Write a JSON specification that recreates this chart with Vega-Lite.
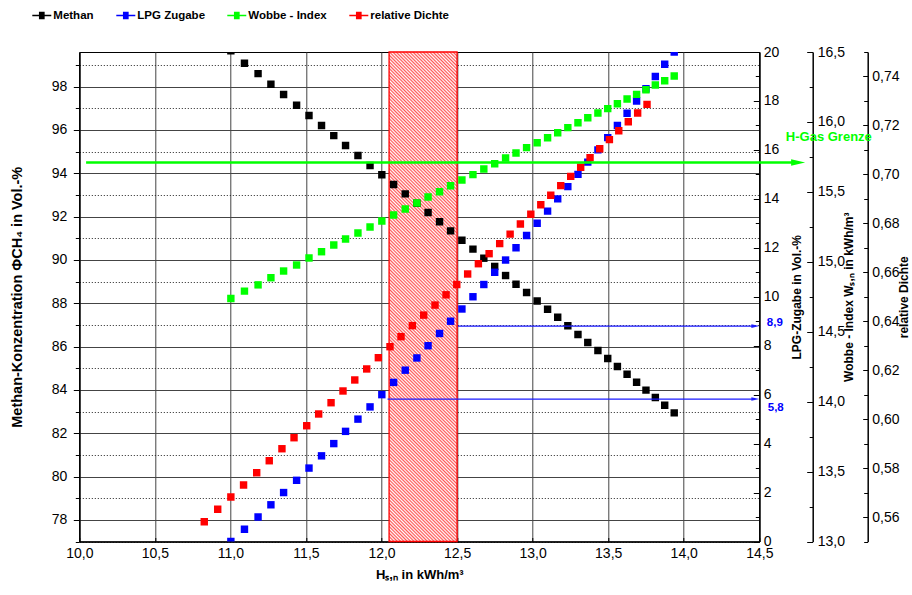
{
"$schema": "https://vega.github.io/schema/vega-lite/v6.json",
"width": 680, "height": 489.5,
"autosize": {"type": "none"},
"padding": {"left": 79.3, "top": 52, "right": 152.7, "bottom": 53.5},
"background": "white",
"datasets": {
"bereich": [{"von": 12.05, "bis": 12.5}],
"methan": [{"H":11.003,"V":99.66},{"H":11.093,"V":99.08},{"H":11.183,"V":98.6},{"H":11.268,"V":98.11},{"H":11.352,"V":97.64},{"H":11.438,"V":97.14},{"H":11.52,"V":96.67},{"H":11.603,"V":96.21},{"H":11.684,"V":95.74},{"H":11.762,"V":95.28},{"H":11.844,"V":94.82},{"H":11.924,"V":94.36},{"H":12.002,"V":93.93},{"H":12.08,"V":93.48},{"H":12.157,"V":93.05},{"H":12.234,"V":92.62},{"H":12.308,"V":92.19},{"H":12.384,"V":91.76},{"H":12.457,"V":91.34},{"H":12.532,"V":90.91},{"H":12.605,"V":90.5},{"H":12.677,"V":90.08},{"H":12.749,"V":89.7},{"H":12.821,"V":89.28},{"H":12.89,"V":88.88},{"H":12.96,"V":88.5},{"H":13.03,"V":88.1},{"H":13.099,"V":87.72},{"H":13.166,"V":87.35},{"H":13.233,"V":86.96},{"H":13.3,"V":86.56},{"H":13.365,"V":86.19},{"H":13.432,"V":85.82},{"H":13.497,"V":85.45},{"H":13.561,"V":85.08},{"H":13.625,"V":84.72},{"H":13.688,"V":84.35},{"H":13.75,"V":83.99},{"H":13.812,"V":83.65},{"H":13.874,"V":83.29},{"H":13.937,"V":82.94}],
"lpg": [{"H":11.003,"V":0},{"H":11.093,"V":0.5},{"H":11.183,"V":1},{"H":11.268,"V":1.5},{"H":11.352,"V":2},{"H":11.438,"V":2.5},{"H":11.52,"V":3},{"H":11.603,"V":3.5},{"H":11.684,"V":4},{"H":11.762,"V":4.5},{"H":11.844,"V":5},{"H":11.924,"V":5.5},{"H":12.002,"V":6},{"H":12.08,"V":6.5},{"H":12.157,"V":7},{"H":12.234,"V":7.5},{"H":12.308,"V":8},{"H":12.384,"V":8.5},{"H":12.457,"V":9},{"H":12.532,"V":9.5},{"H":12.605,"V":10},{"H":12.677,"V":10.5},{"H":12.749,"V":11},{"H":12.821,"V":11.5},{"H":12.89,"V":12},{"H":12.96,"V":12.5},{"H":13.03,"V":13},{"H":13.099,"V":13.5},{"H":13.166,"V":14},{"H":13.233,"V":14.5},{"H":13.3,"V":15},{"H":13.365,"V":15.5},{"H":13.432,"V":16},{"H":13.497,"V":16.5},{"H":13.561,"V":17},{"H":13.625,"V":17.5},{"H":13.688,"V":18},{"H":13.75,"V":18.5},{"H":13.812,"V":19},{"H":13.874,"V":19.5},{"H":13.937,"V":20}],
"wobbe": [{"H":11.003,"V":14.737},{"H":11.093,"V":14.79},{"H":11.183,"V":14.835},{"H":11.268,"V":14.886},{"H":11.352,"V":14.934},{"H":11.438,"V":14.977},{"H":11.52,"V":15.027},{"H":11.603,"V":15.072},{"H":11.684,"V":15.12},{"H":11.762,"V":15.163},{"H":11.844,"V":15.206},{"H":11.924,"V":15.249},{"H":12.002,"V":15.292},{"H":12.08,"V":15.334},{"H":12.157,"V":15.377},{"H":12.234,"V":15.42},{"H":12.308,"V":15.463},{"H":12.384,"V":15.501},{"H":12.457,"V":15.544},{"H":12.532,"V":15.585},{"H":12.605,"V":15.623},{"H":12.677,"V":15.663},{"H":12.749,"V":15.701},{"H":12.821,"V":15.742},{"H":12.89,"V":15.778},{"H":12.96,"V":15.816},{"H":13.03,"V":15.851},{"H":13.099,"V":15.887},{"H":13.166,"V":15.923},{"H":13.233,"V":15.959},{"H":13.3,"V":15.994},{"H":13.365,"V":16.03},{"H":13.432,"V":16.064},{"H":13.497,"V":16.095},{"H":13.561,"V":16.13},{"H":13.625,"V":16.164},{"H":13.688,"V":16.197},{"H":13.75,"V":16.23},{"H":13.812,"V":16.264},{"H":13.874,"V":16.295},{"H":13.937,"V":16.328}],
"dichte": [{"H":10.827,"V":0.5581},{"H":10.916,"V":0.5632},{"H":11.003,"V":0.5682},{"H":11.087,"V":0.5731},{"H":11.174,"V":0.5781},{"H":11.257,"V":0.583},{"H":11.341,"V":0.5879},{"H":11.421,"V":0.5924},{"H":11.505,"V":0.5973},{"H":11.584,"V":0.6021},{"H":11.666,"V":0.6067},{"H":11.745,"V":0.6115},{"H":11.823,"V":0.616},{"H":11.902,"V":0.6205},{"H":11.979,"V":0.6251},{"H":12.056,"V":0.6296},{"H":12.129,"V":0.6337},{"H":12.204,"V":0.6382},{"H":12.279,"V":0.6425},{"H":12.354,"V":0.6466},{"H":12.427,"V":0.6508},{"H":12.498,"V":0.655},{"H":12.57,"V":0.6593},{"H":12.641,"V":0.6635},{"H":12.712,"V":0.6676},{"H":12.782,"V":0.6717},{"H":12.851,"V":0.6756},{"H":12.919,"V":0.6797},{"H":12.988,"V":0.6837},{"H":13.054,"V":0.6876},{"H":13.12,"V":0.6915},{"H":13.186,"V":0.6954},{"H":13.252,"V":0.6992},{"H":13.318,"V":0.7029},{"H":13.38,"V":0.7068},{"H":13.444,"V":0.7105},{"H":13.508,"V":0.7142},{"H":13.57,"V":0.7178},{"H":13.633,"V":0.7215},{"H":13.695,"V":0.7251},{"H":13.757,"V":0.7286}],
"hgas": [{"von": 10.045, "bis": 14.75, "spitze": 14.757, "W": 15.71, "tx": 14.96, "tw": 15.889, "text": "H-Gas Grenze"}],
"lpgmarken": [{"von": 12.506, "bis": 14.47, "spitze": 14.474, "L": 8.8, "tx": 14.603, "tl": 8.93, "text": "8,9"},{"von": 12.04, "bis": 14.47, "spitze": 14.474, "L": 5.82, "tx": 14.609, "tl": 5.45, "text": "5,8"}]
},
"layer": [
{
"data": {"name": "bereich"},
"mark": {"type": "rect", "stroke": "#ff0000", "strokeWidth": 1.3, "opacity": 1, "fillOpacity": 1,
"fill": {"gradient": "linear", "x1": 0, "y1": 1, "x2": 0.155, "y2": -0.117, "stops": [
{"offset":0,"color":"#fff"},{"offset":0.003,"color":"#f55"},{"offset":0.006,"color":"#fff"},{"offset":0.009,"color":"#f55"},{"offset":0.012,"color":"#fff"},{"offset":0.015,"color":"#f55"},{"offset":0.018,"color":"#fff"},{"offset":0.021,"color":"#f55"},{"offset":0.024,"color":"#fff"},{"offset":0.027,"color":"#f55"},
{"offset":0.03,"color":"#fff"},{"offset":0.033,"color":"#f55"},{"offset":0.036,"color":"#fff"},{"offset":0.039,"color":"#f55"},{"offset":0.042,"color":"#fff"},{"offset":0.045,"color":"#f55"},{"offset":0.048,"color":"#fff"},{"offset":0.051,"color":"#f55"},{"offset":0.054,"color":"#fff"},{"offset":0.057,"color":"#f55"},
{"offset":0.06,"color":"#fff"},{"offset":0.063,"color":"#f55"},{"offset":0.066,"color":"#fff"},{"offset":0.069,"color":"#f55"},{"offset":0.072,"color":"#fff"},{"offset":0.075,"color":"#f55"},{"offset":0.078,"color":"#fff"},{"offset":0.081,"color":"#f55"},{"offset":0.084,"color":"#fff"},{"offset":0.087,"color":"#f55"},
{"offset":0.09,"color":"#fff"},{"offset":0.093,"color":"#f55"},{"offset":0.096,"color":"#fff"},{"offset":0.099,"color":"#f55"},{"offset":0.102,"color":"#fff"},{"offset":0.105,"color":"#f55"},{"offset":0.108,"color":"#fff"},{"offset":0.111,"color":"#f55"},{"offset":0.114,"color":"#fff"},{"offset":0.117,"color":"#f55"},
{"offset":0.12,"color":"#fff"},{"offset":0.123,"color":"#f55"},{"offset":0.126,"color":"#fff"},{"offset":0.129,"color":"#f55"},{"offset":0.132,"color":"#fff"},{"offset":0.135,"color":"#f55"},{"offset":0.138,"color":"#fff"},{"offset":0.141,"color":"#f55"},{"offset":0.144,"color":"#fff"},{"offset":0.147,"color":"#f55"},
{"offset":0.15,"color":"#fff"},{"offset":0.153,"color":"#f55"},{"offset":0.156,"color":"#fff"},{"offset":0.159,"color":"#f55"},{"offset":0.162,"color":"#fff"},{"offset":0.165,"color":"#f55"},{"offset":0.168,"color":"#fff"},{"offset":0.171,"color":"#f55"},{"offset":0.174,"color":"#fff"},{"offset":0.177,"color":"#f55"},
{"offset":0.18,"color":"#fff"},{"offset":0.183,"color":"#f55"},{"offset":0.186,"color":"#fff"},{"offset":0.189,"color":"#f55"},{"offset":0.192,"color":"#fff"},{"offset":0.195,"color":"#f55"},{"offset":0.198,"color":"#fff"},{"offset":0.201,"color":"#f55"},{"offset":0.204,"color":"#fff"},{"offset":0.207,"color":"#f55"},
{"offset":0.21,"color":"#fff"},{"offset":0.213,"color":"#f55"},{"offset":0.216,"color":"#fff"},{"offset":0.219,"color":"#f55"},{"offset":0.222,"color":"#fff"},{"offset":0.225,"color":"#f55"},{"offset":0.228,"color":"#fff"},{"offset":0.231,"color":"#f55"},{"offset":0.234,"color":"#fff"},{"offset":0.237,"color":"#f55"},
{"offset":0.24,"color":"#fff"},{"offset":0.243,"color":"#f55"},{"offset":0.246,"color":"#fff"},{"offset":0.249,"color":"#f55"},{"offset":0.252,"color":"#fff"},{"offset":0.255,"color":"#f55"},{"offset":0.258,"color":"#fff"},{"offset":0.261,"color":"#f55"},{"offset":0.264,"color":"#fff"},{"offset":0.267,"color":"#f55"},
{"offset":0.27,"color":"#fff"},{"offset":0.273,"color":"#f55"},{"offset":0.276,"color":"#fff"},{"offset":0.279,"color":"#f55"},{"offset":0.282,"color":"#fff"},{"offset":0.285,"color":"#f55"},{"offset":0.288,"color":"#fff"},{"offset":0.291,"color":"#f55"},{"offset":0.294,"color":"#fff"},{"offset":0.297,"color":"#f55"},
{"offset":0.3,"color":"#fff"},{"offset":0.303,"color":"#f55"},{"offset":0.306,"color":"#fff"},{"offset":0.309,"color":"#f55"},{"offset":0.312,"color":"#fff"},{"offset":0.315,"color":"#f55"},{"offset":0.318,"color":"#fff"},{"offset":0.321,"color":"#f55"},{"offset":0.324,"color":"#fff"},{"offset":0.327,"color":"#f55"},
{"offset":0.33,"color":"#fff"},{"offset":0.333,"color":"#f55"},{"offset":0.336,"color":"#fff"},{"offset":0.339,"color":"#f55"},{"offset":0.342,"color":"#fff"},{"offset":0.345,"color":"#f55"},{"offset":0.348,"color":"#fff"},{"offset":0.351,"color":"#f55"},{"offset":0.354,"color":"#fff"},{"offset":0.357,"color":"#f55"},
{"offset":0.36,"color":"#fff"},{"offset":0.363,"color":"#f55"},{"offset":0.366,"color":"#fff"},{"offset":0.369,"color":"#f55"},{"offset":0.372,"color":"#fff"},{"offset":0.375,"color":"#f55"},{"offset":0.378,"color":"#fff"},{"offset":0.381,"color":"#f55"},{"offset":0.384,"color":"#fff"},{"offset":0.387,"color":"#f55"},
{"offset":0.39,"color":"#fff"},{"offset":0.393,"color":"#f55"},{"offset":0.396,"color":"#fff"},{"offset":0.399,"color":"#f55"},{"offset":0.402,"color":"#fff"},{"offset":0.405,"color":"#f55"},{"offset":0.408,"color":"#fff"},{"offset":0.411,"color":"#f55"},{"offset":0.414,"color":"#fff"},{"offset":0.417,"color":"#f55"},
{"offset":0.42,"color":"#fff"},{"offset":0.423,"color":"#f55"},{"offset":0.426,"color":"#fff"},{"offset":0.429,"color":"#f55"},{"offset":0.432,"color":"#fff"},{"offset":0.435,"color":"#f55"},{"offset":0.438,"color":"#fff"},{"offset":0.441,"color":"#f55"},{"offset":0.444,"color":"#fff"},{"offset":0.447,"color":"#f55"},
{"offset":0.45,"color":"#fff"},{"offset":0.453,"color":"#f55"},{"offset":0.456,"color":"#fff"},{"offset":0.459,"color":"#f55"},{"offset":0.462,"color":"#fff"},{"offset":0.465,"color":"#f55"},{"offset":0.468,"color":"#fff"},{"offset":0.471,"color":"#f55"},{"offset":0.474,"color":"#fff"},{"offset":0.477,"color":"#f55"},
{"offset":0.48,"color":"#fff"},{"offset":0.483,"color":"#f55"},{"offset":0.486,"color":"#fff"},{"offset":0.489,"color":"#f55"},{"offset":0.492,"color":"#fff"},{"offset":0.495,"color":"#f55"},{"offset":0.498,"color":"#fff"},{"offset":0.501,"color":"#f55"},{"offset":0.504,"color":"#fff"},{"offset":0.507,"color":"#f55"},
{"offset":0.51,"color":"#fff"},{"offset":0.513,"color":"#f55"},{"offset":0.516,"color":"#fff"},{"offset":0.519,"color":"#f55"},{"offset":0.522,"color":"#fff"},{"offset":0.525,"color":"#f55"},{"offset":0.528,"color":"#fff"},{"offset":0.531,"color":"#f55"},{"offset":0.534,"color":"#fff"},{"offset":0.537,"color":"#f55"},
{"offset":0.54,"color":"#fff"},{"offset":0.543,"color":"#f55"},{"offset":0.546,"color":"#fff"},{"offset":0.549,"color":"#f55"},{"offset":0.552,"color":"#fff"},{"offset":0.555,"color":"#f55"},{"offset":0.558,"color":"#fff"},{"offset":0.561,"color":"#f55"},{"offset":0.564,"color":"#fff"},{"offset":0.567,"color":"#f55"},
{"offset":0.57,"color":"#fff"},{"offset":0.573,"color":"#f55"},{"offset":0.576,"color":"#fff"},{"offset":0.579,"color":"#f55"},{"offset":0.582,"color":"#fff"},{"offset":0.585,"color":"#f55"},{"offset":0.588,"color":"#fff"},{"offset":0.591,"color":"#f55"},{"offset":0.594,"color":"#fff"},{"offset":0.597,"color":"#f55"},
{"offset":0.6,"color":"#fff"},{"offset":0.603,"color":"#f55"},{"offset":0.606,"color":"#fff"},{"offset":0.609,"color":"#f55"},{"offset":0.612,"color":"#fff"},{"offset":0.615,"color":"#f55"},{"offset":0.618,"color":"#fff"},{"offset":0.621,"color":"#f55"},{"offset":0.624,"color":"#fff"},{"offset":0.627,"color":"#f55"},
{"offset":0.63,"color":"#fff"},{"offset":0.633,"color":"#f55"},{"offset":0.636,"color":"#fff"},{"offset":0.639,"color":"#f55"},{"offset":0.642,"color":"#fff"},{"offset":0.645,"color":"#f55"},{"offset":0.648,"color":"#fff"},{"offset":0.651,"color":"#f55"},{"offset":0.654,"color":"#fff"},{"offset":0.657,"color":"#f55"},
{"offset":0.66,"color":"#fff"},{"offset":0.663,"color":"#f55"},{"offset":0.666,"color":"#fff"},{"offset":0.669,"color":"#f55"},{"offset":0.672,"color":"#fff"},{"offset":0.675,"color":"#f55"},{"offset":0.678,"color":"#fff"},{"offset":0.681,"color":"#f55"},{"offset":0.684,"color":"#fff"},{"offset":0.687,"color":"#f55"},
{"offset":0.69,"color":"#fff"},{"offset":0.693,"color":"#f55"},{"offset":0.696,"color":"#fff"},{"offset":0.699,"color":"#f55"},{"offset":0.702,"color":"#fff"},{"offset":0.705,"color":"#f55"},{"offset":0.708,"color":"#fff"},{"offset":0.711,"color":"#f55"},{"offset":0.714,"color":"#fff"},{"offset":0.717,"color":"#f55"},
{"offset":0.72,"color":"#fff"},{"offset":0.723,"color":"#f55"},{"offset":0.726,"color":"#fff"},{"offset":0.729,"color":"#f55"},{"offset":0.732,"color":"#fff"},{"offset":0.735,"color":"#f55"},{"offset":0.738,"color":"#fff"},{"offset":0.741,"color":"#f55"},{"offset":0.744,"color":"#fff"},{"offset":0.747,"color":"#f55"},
{"offset":0.75,"color":"#fff"},{"offset":0.753,"color":"#f55"},{"offset":0.756,"color":"#fff"},{"offset":0.759,"color":"#f55"},{"offset":0.762,"color":"#fff"},{"offset":0.765,"color":"#f55"},{"offset":0.768,"color":"#fff"},{"offset":0.771,"color":"#f55"},{"offset":0.774,"color":"#fff"},{"offset":0.777,"color":"#f55"},
{"offset":0.78,"color":"#fff"},{"offset":0.783,"color":"#f55"},{"offset":0.786,"color":"#fff"},{"offset":0.789,"color":"#f55"},{"offset":0.792,"color":"#fff"},{"offset":0.795,"color":"#f55"},{"offset":0.798,"color":"#fff"},{"offset":0.801,"color":"#f55"},{"offset":0.804,"color":"#fff"},{"offset":0.807,"color":"#f55"},
{"offset":0.81,"color":"#fff"},{"offset":0.813,"color":"#f55"},{"offset":0.816,"color":"#fff"},{"offset":0.819,"color":"#f55"},{"offset":0.822,"color":"#fff"},{"offset":0.825,"color":"#f55"},{"offset":0.828,"color":"#fff"},{"offset":0.831,"color":"#f55"},{"offset":0.834,"color":"#fff"},{"offset":0.837,"color":"#f55"},
{"offset":0.84,"color":"#fff"},{"offset":0.843,"color":"#f55"},{"offset":0.846,"color":"#fff"},{"offset":0.849,"color":"#f55"},{"offset":0.852,"color":"#fff"},{"offset":0.855,"color":"#f55"},{"offset":0.858,"color":"#fff"},{"offset":0.861,"color":"#f55"},{"offset":0.864,"color":"#fff"},{"offset":0.867,"color":"#f55"},
{"offset":0.87,"color":"#fff"},{"offset":0.873,"color":"#f55"},{"offset":0.876,"color":"#fff"},{"offset":0.879,"color":"#f55"},{"offset":0.882,"color":"#fff"},{"offset":0.885,"color":"#f55"},{"offset":0.888,"color":"#fff"},{"offset":0.891,"color":"#f55"},{"offset":0.894,"color":"#fff"},{"offset":0.897,"color":"#f55"},
{"offset":0.9,"color":"#fff"},{"offset":0.903,"color":"#f55"},{"offset":0.906,"color":"#fff"},{"offset":0.909,"color":"#f55"},{"offset":0.912,"color":"#fff"},{"offset":0.915,"color":"#f55"},{"offset":0.918,"color":"#fff"},{"offset":0.921,"color":"#f55"},{"offset":0.924,"color":"#fff"},{"offset":0.927,"color":"#f55"},
{"offset":0.93,"color":"#fff"},{"offset":0.933,"color":"#f55"},{"offset":0.936,"color":"#fff"},{"offset":0.939,"color":"#f55"},{"offset":0.942,"color":"#fff"},{"offset":0.945,"color":"#f55"},{"offset":0.948,"color":"#fff"},{"offset":0.951,"color":"#f55"},{"offset":0.954,"color":"#fff"},{"offset":0.957,"color":"#f55"},
{"offset":0.96,"color":"#fff"},{"offset":0.963,"color":"#f55"},{"offset":0.966,"color":"#fff"},{"offset":0.969,"color":"#f55"},{"offset":0.972,"color":"#fff"},{"offset":0.975,"color":"#f55"},{"offset":0.978,"color":"#fff"},{"offset":0.981,"color":"#f55"},{"offset":0.984,"color":"#fff"},{"offset":0.987,"color":"#f55"},
{"offset":0.99,"color":"#fff"},{"offset":0.993,"color":"#f55"},{"offset":0.996,"color":"#fff"},{"offset":0.999,"color":"#f55"},{"offset":1,"color":"#fff"}
]}},
"encoding": {
"x": {"field": "von", "type": "quantitative", "scale": {"domain": [10, 14.5], "nice": false, "zero": false},
"axis": {"values": [10,10.25,10.5,10.75,11,11.25,11.5,11.75,12,12.25,12.5,12.75,13,13.25,13.5,13.75,14,14.25,14.5],
"labelExpr": "datum.value % 0.5 === 0 ? replace(format(datum.value, '.1f'), '.', ',') : ''",
"tickSize": -4, "labelPadding": 9,
"grid": true,
"gridColor": {"condition": {"test": "datum.value % 0.5 === 0", "value": "#444"}, "value": "#222"},
"gridDash": {"condition": {"test": "datum.value % 0.5 === 0", "value": []}, "value": [1, 2]},
"gridWidth": 1, "gridOpacity": 1,
"title": "Hₛ,ₙ in kWh/m³", "titleFontSize": 13, "titlePadding": 8}},
"x2": {"field": "bis"}
}
},
{
"data": {"name": "methan"},
"mark": {"type": "square", "size": 55, "opacity": 1, "clip": true},
"encoding": {
"x": {"field": "H", "type": "quantitative", "scale": {"domain": [10, 14.5], "nice": false, "zero": false}},
"y": {"field": "V", "type": "quantitative", "scale": {"domain": [77, 99.6], "nice": false, "zero": false},
"axis": {"orient": "left", "values": [77,78,79,80,81,82,83,84,85,86,87,88,89,90,91,92,93,94,95,96,97,98,99],
"labelExpr": "datum.value % 2 === 0 ? format(datum.value, 'd') : ''",
"tickSize": {"condition": {"test": "datum.value % 2 === 0", "value": 6}, "value": 4},
"labelPadding": 6.5,
"grid": true,
"gridColor": {"condition": {"test": "datum.value % 2 === 0", "value": "#444"}, "value": "#222"},
"gridDash": {"condition": {"test": "datum.value % 2 === 0", "value": []}, "value": [1, 2]},
"gridWidth": 1, "gridOpacity": 1,
"title": "Methan-Konzentration ΦCH₄ in Vol.-%", "titleFontSize": 14.5, "titlePadding": 27}},
"color": {"datum": "Methan", "type": "nominal",
"scale": {"domain": ["Methan", "LPG Zugabe", "Wobbe - Index", "relative Dichte"], "range": ["#000000", "#0000ff", "#00ff00", "#ff0000"]},
"legend": {"orient": "none", "legendX": -47, "legendY": -46, "direction": "horizontal", "title": null, "symbolType": "M-1,-0.07H1V0.07H-1ZM-0.3,-0.4H0.3V0.4H-0.3Z", "symbolSize": 361, "symbolStrokeWidth": 0, "labelFont": "Liberation Sans Narrow, Liberation Sans", "labelFontWeight": "bold", "labelFontSize": 11.5, "labelColor": "#000", "labelOffset": 2, "columnPadding": 22}}
}
},
{
"data": {"name": "lpg"},
"mark": {"type": "square", "size": 55, "opacity": 1, "clip": true},
"encoding": {
"x": {"field": "H", "type": "quantitative", "scale": {"domain": [10, 14.5], "nice": false, "zero": false}},
"y": {"field": "V", "type": "quantitative", "scale": {"domain": [0, 20], "nice": false, "zero": false},
"axis": {"orient": "right", "offset": 0, "values": [0,1,2,3,4,5,6,7,8,9,10,11,12,13,14,15,16,17,18,19,20],
"labelExpr": "datum.value % 2 === 0 ? format(datum.value, 'd') : ''",
"tickSize": {"condition": {"test": "datum.value % 2 === 0", "value": -6}, "value": -4},
"labelPadding": 10,
"title": "LPG-Zugabe in Vol.-%", "titleAngle": 270, "titleBaseline": "middle", "titleX": 37.2}},
"color": {"datum": "LPG Zugabe", "type": "nominal",
"scale": {"domain": ["Methan", "LPG Zugabe", "Wobbe - Index", "relative Dichte"], "range": ["#000000", "#0000ff", "#00ff00", "#ff0000"]},
"legend": {"orient": "none", "legendX": -47, "legendY": -46, "direction": "horizontal", "title": null, "symbolType": "M-1,-0.07H1V0.07H-1ZM-0.3,-0.4H0.3V0.4H-0.3Z", "symbolSize": 361, "symbolStrokeWidth": 0, "labelFont": "Liberation Sans Narrow, Liberation Sans", "labelFontWeight": "bold", "labelFontSize": 11.5, "labelColor": "#000", "labelOffset": 2, "columnPadding": 22}}
}
},
{
"data": {"name": "wobbe"},
"mark": {"type": "square", "size": 55, "opacity": 1, "clip": true},
"encoding": {
"x": {"field": "H", "type": "quantitative", "scale": {"domain": [10, 14.5], "nice": false, "zero": false}},
"y": {"field": "V", "type": "quantitative", "scale": {"domain": [13, 16.5], "nice": false, "zero": false},
"axis": {"orient": "right", "offset": 53.4, "values": [13,13.25,13.5,13.75,14,14.25,14.5,14.75,15,15.25,15.5,15.75,16,16.25,16.5],
"labelExpr": "datum.value % 0.5 === 0 ? replace(format(datum.value, '.1f'), '.', ',') : ''",
"tickSize": {"condition": {"test": "datum.value % 0.5 === 0", "value": -6}, "value": -3.5},
"labelPadding": 10.5,
"title": "Wobbe - Index Wₛ,ₙ in kWh/m³", "titleAngle": 270, "titleBaseline": "middle", "titleX": 35.8}},
"color": {"datum": "Wobbe - Index", "type": "nominal",
"scale": {"domain": ["Methan", "LPG Zugabe", "Wobbe - Index", "relative Dichte"], "range": ["#000000", "#0000ff", "#00ff00", "#ff0000"]},
"legend": {"orient": "none", "legendX": -47, "legendY": -46, "direction": "horizontal", "title": null, "symbolType": "M-1,-0.07H1V0.07H-1ZM-0.3,-0.4H0.3V0.4H-0.3Z", "symbolSize": 361, "symbolStrokeWidth": 0, "labelFont": "Liberation Sans Narrow, Liberation Sans", "labelFontWeight": "bold", "labelFontSize": 11.5, "labelColor": "#000", "labelOffset": 2, "columnPadding": 22}}
}
},
{
"data": {"name": "dichte"},
"mark": {"type": "square", "size": 55, "opacity": 1, "clip": true},
"encoding": {
"x": {"field": "H", "type": "quantitative", "scale": {"domain": [10, 14.5], "nice": false, "zero": false}},
"y": {"field": "V", "type": "quantitative", "scale": {"domain": [0.55, 0.75], "nice": false, "zero": false},
"axis": {"orient": "right", "offset": 108.4, "values": [0.55,0.56,0.57,0.58,0.59,0.6,0.61,0.62,0.63,0.64,0.65,0.66,0.67,0.68,0.69,0.7,0.71,0.72,0.73,0.74,0.75],
"labelExpr": "round(datum.value * 100) % 2 === 0 ? replace(format(datum.value, '.2f'), '.', ',') : ''",
"tickSize": {"condition": {"test": "round(datum.value * 100) % 2 === 0", "value": -5}, "value": -4},
"labelPadding": 9,
"title": "relative Dichte", "titleAngle": 270, "titleBaseline": "middle", "titleX": 35.3}},
"color": {"datum": "relative Dichte", "type": "nominal",
"scale": {"domain": ["Methan", "LPG Zugabe", "Wobbe - Index", "relative Dichte"], "range": ["#000000", "#0000ff", "#00ff00", "#ff0000"]},
"legend": {"orient": "none", "legendX": -47, "legendY": -46, "direction": "horizontal", "title": null, "symbolType": "M-1,-0.07H1V0.07H-1ZM-0.3,-0.4H0.3V0.4H-0.3Z", "symbolSize": 361, "symbolStrokeWidth": 0, "labelFont": "Liberation Sans Narrow, Liberation Sans", "labelFontWeight": "bold", "labelFontSize": 11.5, "labelColor": "#000", "labelOffset": 2, "columnPadding": 22}}
}
},
{
"data": {"name": "hgas"},
"mark": {"type": "rule", "color": "#00ff00", "strokeWidth": 2.6},
"encoding": {
"x": {"field": "von", "type": "quantitative", "scale": {"domain": [10, 14.5], "nice": false, "zero": false}},
"x2": {"field": "bis"},
"y": {"field": "W", "type": "quantitative", "scale": {"domain": [13, 16.5], "nice": false, "zero": false}, "axis": null}
}
},
{
"data": {"name": "hgas"},
"mark": {"type": "point", "shape": "M-1,-0.45L1,0L-1,0.45Z", "size": 196, "filled": true, "color": "#00ff00", "opacity": 1},
"encoding": {
"x": {"field": "spitze", "type": "quantitative", "scale": {"domain": [10, 14.5], "nice": false, "zero": false}},
"y": {"field": "W", "type": "quantitative", "scale": {"domain": [13, 16.5], "nice": false, "zero": false}, "axis": null}
}
},
{
"data": {"name": "hgas"},
"mark": {"type": "text", "font": "Liberation Sans", "fontWeight": "bold", "fontSize": 13, "fill": "#00ff00", "align": "center", "baseline": "middle"},
"encoding": {
"x": {"field": "tx", "type": "quantitative", "scale": {"domain": [10, 14.5], "nice": false, "zero": false}},
"y": {"field": "tw", "type": "quantitative", "scale": {"domain": [13, 16.5], "nice": false, "zero": false}, "axis": null},
"text": {"field": "text"}
}
},
{
"data": {"name": "lpgmarken"},
"mark": {"type": "rule", "color": "#1a1aff", "strokeWidth": 1.3},
"encoding": {
"x": {"field": "von", "type": "quantitative", "scale": {"domain": [10, 14.5], "nice": false, "zero": false}},
"x2": {"field": "bis"},
"y": {"field": "L", "type": "quantitative", "scale": {"domain": [0, 20], "nice": false, "zero": false}, "axis": null}
}
},
{
"data": {"name": "lpgmarken"},
"mark": {"type": "point", "shape": "M-1,-0.45L1,0L-1,0.45Z", "size": 64, "filled": true, "color": "#1a1aff", "opacity": 1},
"encoding": {
"x": {"field": "spitze", "type": "quantitative", "scale": {"domain": [10, 14.5], "nice": false, "zero": false}},
"y": {"field": "L", "type": "quantitative", "scale": {"domain": [0, 20], "nice": false, "zero": false}, "axis": null}
}
},
{
"data": {"name": "lpgmarken"},
"mark": {"type": "text", "font": "Liberation Sans", "fontWeight": "bold", "fontSize": 11.5, "fill": "#0000ff", "align": "center", "baseline": "middle"},
"encoding": {
"x": {"field": "tx", "type": "quantitative", "scale": {"domain": [10, 14.5], "nice": false, "zero": false}},
"y": {"field": "tl", "type": "quantitative", "scale": {"domain": [0, 20], "nice": false, "zero": false}, "axis": null},
"text": {"field": "text"}
}
}
],
"resolve": {"scale": {"y": "independent"}},
"config": {
"view": {"stroke": "#000", "strokeWidth": 1},
"font": "Liberation Sans",
"axis": {"labelFont": "Liberation Sans", "labelFontSize": 14, "labelColor": "#000", "titleFont": "Liberation Sans", "titleFontSize": 12, "titleFontWeight": "bold", "titleColor": "#000", "domainColor": "#000", "domainWidth": 1.5, "tickColor": "#000", "tickWidth": 1, "labelFlush": false, "labelOverlap": false, "grid": false}
}
}
